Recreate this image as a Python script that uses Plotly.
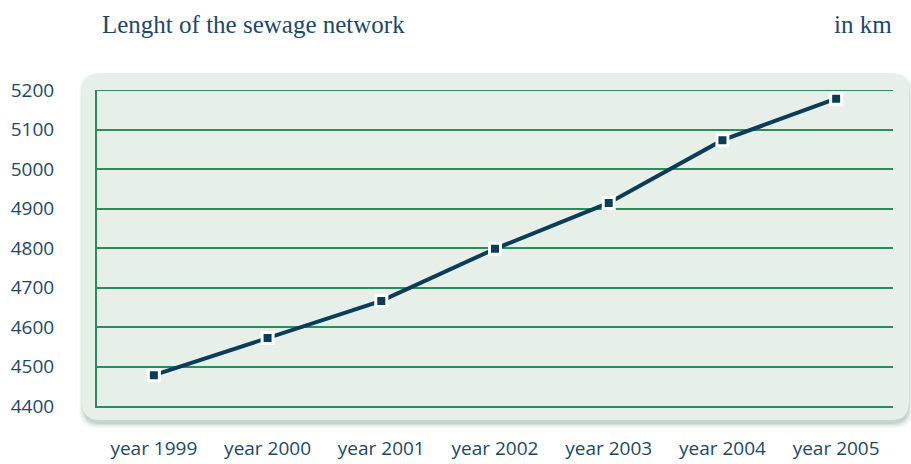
import plotly.graph_objects as go

# Sewage network length by year (km)
years = ["year 1999", "year 2000", "year 2001", "year 2002", "year 2003", "year 2004", "year 2005"]
length_km = [4478, 4572, 4666, 4798, 4914, 5073, 5178]
y_ticks = [4400, 4500, 4600, 4700, 4800, 4900, 5000, 5100, 5200]

W, H = 911, 464
ML, MR, MT, MB = 97, 18, 90, 58
PW, PH = W - ML - MR, H - MT - MB

NAVY = "#0b3c58"
TEXT = "#1d4866"
GRID = "#2b8c5c"
PANEL = "#e6efe8"

fig = go.Figure()

fig.add_trace(go.Scatter(
    x=years, y=length_km, mode="lines+markers",
    line=dict(color=NAVY, width=4),
    marker=dict(symbol="square", size=11, color=NAVY, line=dict(color="white", width=3)),
    hoverinfo="x+y", showlegend=False,
))


def px_x(v):
    # pixel column -> paper x (paper spans the plot area)
    return (v - ML) / PW


def px_y(v):
    # pixel row -> paper y
    return 1 - (v - MT) / PH


def rounded_rect(x0, y0, x1, y1, r):
    X0, X1 = px_x(x0), px_x(x1)
    Y0, Y1 = px_y(y0), px_y(y1)
    rx, ry = r / PW, r / PH
    return (f"M{X0+rx},{Y0} L{X1-rx},{Y0} Q{X1},{Y0} {X1},{Y0-ry} "
            f"L{X1},{Y1+ry} Q{X1},{Y1} {X1-rx},{Y1} L{X0+rx},{Y1} "
            f"Q{X0},{Y1} {X0},{Y1+ry} L{X0},{Y0-ry} Q{X0},{Y0} {X0+rx},{Y0} Z")


shapes = []
# soft drop shadow under the panel
for i, op in enumerate([0.05, 0.07, 0.09, 0.12, 0.16]):
    d = 5 - i
    shapes.append(dict(type="path", xref="paper", yref="paper", layer="below",
                       path=rounded_rect(82 - d + 2, 73 - d + 6, 910 + d - 2, 420 + d + 3, 18),
                       fillcolor=f"rgba(120,150,130,{op})", line=dict(width=0)))
shapes.append(dict(type="path", xref="paper", yref="paper", layer="below",
                   path=rounded_rect(82, 73, 909, 420, 18),
                   fillcolor=PANEL, line=dict(width=0)))
# top gridline at the upper end of the range
shapes.append(dict(type="line", xref="paper", yref="y", layer="below",
                   x0=0, x1=1, y0=y_ticks[-1], y1=y_ticks[-1],
                   line=dict(color=GRID, width=2)))

fig.update_layout(
    width=W, height=H,
    margin=dict(l=ML, r=MR, t=MT, b=MB),
    paper_bgcolor="white", plot_bgcolor="rgba(0,0,0,0)",
    shapes=shapes,
    annotations=[
        dict(text="Lenght of the sewage network", xref="paper", yref="paper",
             x=px_x(100), y=px_y(24), xanchor="left", yanchor="middle", showarrow=False,
             font=dict(family="Liberation Serif, serif", size=25, color=TEXT)),
        dict(text="in km", xref="paper", yref="paper",
             x=px_x(894), y=px_y(24), xanchor="right", yanchor="middle", showarrow=False,
             font=dict(family="Liberation Serif, serif", size=25, color=TEXT)),
    ],
    xaxis=dict(
        type="category", range=[-0.5, 6.5], automargin=False,
        showgrid=False, showline=True, linecolor=GRID, linewidth=2,
        ticks="", ticklabelstandoff=24,
        tickfont=dict(family="Open Sans, sans-serif", size=19, color=TEXT),
        fixedrange=True,
    ),
    yaxis=dict(
        range=[4400, 5200], tickvals=y_ticks, automargin=False,
        showgrid=True, gridcolor=GRID, gridwidth=2,
        showline=True, linecolor=GRID, linewidth=2,
        zeroline=False, ticks="", ticklabelstandoff=37,
        tickfont=dict(family="Open Sans, sans-serif", size=19, color=TEXT),
        fixedrange=True,
    ),
)

fig.write_html("out.html")
